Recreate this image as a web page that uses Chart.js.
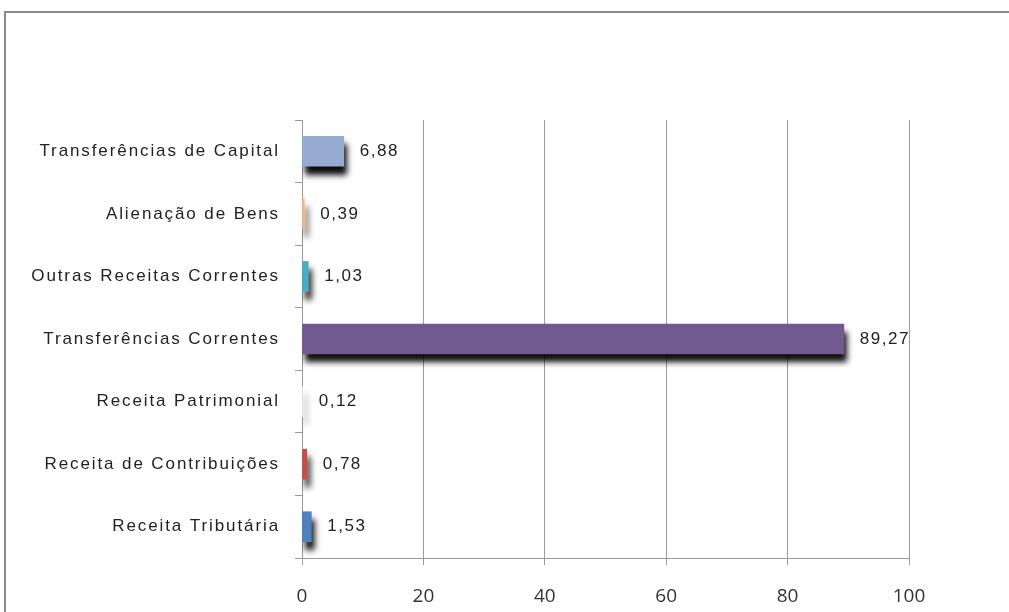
<!DOCTYPE html>
<html>
<head>
<meta charset="utf-8">
<script src="https://cdn.jsdelivr.net/npm/chart.js@4/dist/chart.umd.min.js"></script>
<style>
  body { margin: 0; background: #fff; overflow: hidden; }
  #moldura { position: absolute; left: 4px; top: 11px; width: 1100px; height: 700px;
             border-top: 2px solid #8a8a8a; border-left: 2px solid #8a8a8a; }
  #grafico { position: absolute; left: 0; top: 0; }
</style>
</head>
<body>
<div id="moldura"></div>
<canvas id="grafico" width="1009" height="612"></canvas>
<script>
// categorias (de cima para baixo)
const categorias = [
	'Transferências de Capital',
	'Alienação de Bens',
	'Outras Receitas Correntes',
	'Transferências Correntes',
	'Receita Patrimonial',
	'Receita de Contribuições',
	'Receita Tributária'
];
// percentual de cada receita
const valores = [6.88, 0.39, 1.03, 89.27, 0.12, 0.78, 1.53];
const cores = ['#95abd2', '#f5b68a', '#4bacc6', '#715a8f', '#eeeeee', '#c0504d', '#4f81bd'];
const ticksX = [0, 20, 40, 60, 80, 100];

const fonteArial = '"Liberation Sans", Arial, sans-serif';

// sombra das barras + rotulos de valor
const pluginSombra = {
	id: 'sombra',
	beforeDraw(chart){
		// espacamento de letras nos rotulos do eixo y
		let y = chart.scales.y;
		if(!y._espacado){
			let orig = y.drawLabels;
			y.drawLabels = function(area){
				this.ctx.save();
				this.ctx.letterSpacing = '1.9px';
				orig.call(this, area);
				this.ctx.restore();
			};
			y._espacado = true;
		}
	},
	beforeDatasetsDraw(chart){
		let ctx = chart.ctx;
		ctx.save();
		ctx.shadowColor = 'rgba(0,0,0,0.95)';
		ctx.shadowBlur = 6;
		ctx.shadowOffsetX = 3;
		ctx.shadowOffsetY = 8;
	},
	afterDatasetsDraw(chart){
		let ctx = chart.ctx;
		ctx.restore();
		ctx.save();
		ctx.font = '17px ' + fonteArial;
		ctx.letterSpacing = '1.5px';
		ctx.fillStyle = '#222';
		ctx.textBaseline = 'middle';
		ctx.textAlign = 'left';
		chart.getDatasetMeta(0).data.forEach(function(barra, i){
			let texto = valores[i].toFixed(2).replace('.', ',');
			ctx.fillText(texto, barra.x + 16, barra.y);
		});
		ctx.restore();
	}
};

new Chart(document.getElementById('grafico'), {
	type: 'bar',
	data: {
		labels: categorias,
		datasets: [{
			data: valores,
			backgroundColor: cores,
			borderWidth: 0,
			barThickness: 30
		}]
	},
	options: {
		indexAxis: 'y',
		responsive: false,
		animation: false,
		layout: { padding: { top: 120, right: 100, left: 0, bottom: 0 } },
		plugins: {
			legend: { display: false },
			tooltip: { enabled: false }
		},
		scales: {
			x: {
				min: 0,
				max: 100,
				afterBuildTicks(scale){
					scale.ticks = ticksX.map(v => ({ value: v }));
				},
				afterFit(scale){ scale.height = 54; },
				grid: { color: '#9a9a9a', lineWidth: 1, tickLength: 7 },
				border: { color: '#9a9a9a' },
				ticks: {
					color: '#333',
					padding: 20,
					font: { family: '"Open Sans", sans-serif', size: 19 }
				}
			},
			y: {
				afterFit(scale){ scale.width = 302; },
				grid: { drawOnChartArea: false, color: '#9a9a9a', tickLength: 7, offset: true },
				border: { color: '#9a9a9a' },
				ticks: {
					color: '#222',
					padding: 15,
					font: { family: fonteArial, size: 17 }
				}
			}
		}
	},
	plugins: [pluginSombra]
});
</script>
</body>
</html>
